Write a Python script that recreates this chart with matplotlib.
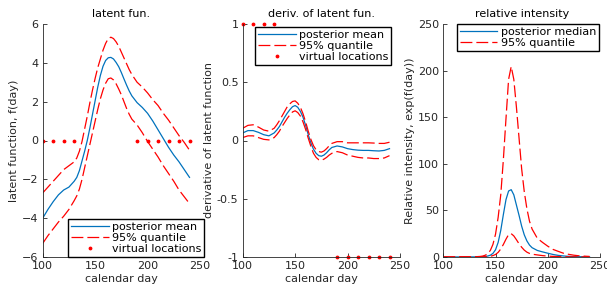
import numpy as np
import matplotlib
matplotlib.use("Agg")
import matplotlib.pyplot as plt

days = [100, 105, 110, 115, 120, 125, 130, 132.5, 135, 137.5, 140, 142.5, 145, 147.5,
        150, 152.5, 155, 157.5, 160, 162.5, 165, 167.5, 170, 172.5, 175, 177.5, 180,
        182.5, 185, 190, 195, 200, 205, 210, 215, 220, 225, 230, 235, 240]

f_mean = [-4.0, -3.55, -3.15, -2.8, -2.55, -2.4, -2.1, -1.9, -1.55, -1.05, -0.55, 0.0,
          0.65, 1.35, 2.05, 2.75, 3.35, 3.82, 4.12, 4.26, 4.28, 4.2, 4.02, 3.8, 3.5,
          3.17, 2.85, 2.55, 2.3, 1.95, 1.7, 1.4, 1.0, 0.55, 0.1, -0.35, -0.75, -1.1,
          -1.5, -1.9]
f_upper = [-2.7, -2.4, -2.1, -1.8, -1.5, -1.3, -1.1, -0.9, -0.55, -0.05, 0.6, 1.25,
           1.95, 2.6, 3.2, 3.75, 4.2, 4.65, 5.0, 5.25, 5.32, 5.25, 5.08, 4.85, 4.55,
           4.25, 3.95, 3.65, 3.4, 3.0, 2.75, 2.45, 2.1, 1.8, 1.4, 1.05, 0.65, 0.25,
           -0.1, -0.5]
f_lower = [-5.3, -4.9, -4.55, -4.2, -3.9, -3.55, -3.1, -2.85, -2.5, -2.0, -1.4, -0.8,
           -0.2, 0.4, 1.0, 1.6, 2.15, 2.6, 2.95, 3.18, 3.22, 3.12, 2.92, 2.65, 2.35,
           2.0, 1.65, 1.35, 1.1, 0.8, 0.4, -0.05, -0.45, -0.85, -1.3, -1.7, -2.1,
           -2.55, -2.9, -3.25]

d_mean = [0.065, 0.085, 0.085, 0.07, 0.05, 0.04, 0.065, 0.09, 0.12, 0.16, 0.2, 0.235,
          0.265, 0.29, 0.30, 0.285, 0.25, 0.2, 0.13, 0.05, -0.02, -0.075, -0.11, -0.13,
          -0.135, -0.125, -0.105, -0.08, -0.06, -0.047, -0.055, -0.07, -0.078, -0.083,
          -0.085, -0.085, -0.088, -0.09, -0.085, -0.07]
d_upper = [0.105, 0.13, 0.135, 0.115, 0.09, 0.08, 0.105, 0.135, 0.17, 0.21, 0.25, 0.29,
           0.315, 0.335, 0.34, 0.32, 0.285, 0.23, 0.16, 0.08, 0.01, -0.045, -0.08,
           -0.095, -0.1, -0.09, -0.07, -0.045, -0.025, -0.01, -0.01, -0.02, -0.02,
           -0.02, -0.02, -0.02, -0.022, -0.025, -0.025, -0.015]
d_lower = [0.025, 0.04, 0.04, 0.025, 0.01, 0.005, 0.025, 0.05, 0.08, 0.12, 0.155, 0.19,
           0.22, 0.245, 0.255, 0.24, 0.21, 0.16, 0.095, 0.02, -0.05, -0.11, -0.145,
           -0.165, -0.17, -0.16, -0.145, -0.125, -0.11, -0.095, -0.105, -0.125, -0.135,
           -0.145, -0.15, -0.15, -0.155, -0.155, -0.15, -0.13]

virt_days_lo = [100, 110, 120, 130]
virt_days_hi = [190, 200, 210, 220, 230, 240]
virt_f = 0
virt_d_lo = 1
virt_d_hi = -1

# intensity is exp of the latent function (as labelled on the axis)
i_median = np.exp(f_mean)
i_upper = np.exp(f_upper)
i_lower = np.exp(f_lower)

plt.rcParams['font.family'] = ['DejaVu Sans']
plt.rcParams['font.size'] = 8

BLUE = '#0072BD'
RED = '#FF0000'
AX = '#262626'
DASH = (0, (9.5, 3.2))
LW = 0.9

fig = plt.figure(figsize=(6.07, 2.93), dpi=100)
W, H = 607, 293
bottom = 1 - 257 / H
height = (257 - 24) / H
lefts = [42.7, 242.7, 443.3]
rights = [200, 400, 600]
axes = [fig.add_axes([l / W, bottom, (r - l) / W, height]) for l, r in zip(lefts, rights)]


def style(ax):
    for s in ['top', 'right']:
        ax.spines[s].set_visible(False)
    for s in ['left', 'bottom']:
        ax.spines[s].set_color(AX)
        ax.spines[s].set_linewidth(0.6)
    ax.tick_params(direction='in', length=3, width=0.6, colors=AX, labelsize=8, pad=3)
    ax.set_xlim(100, 250)
    ax.set_xticks([100, 150, 200, 250])
    ax.set_xlabel('calendar day', color=AX, labelpad=2)


leg_kw = dict(fancybox=False, framealpha=1, edgecolor='black', handlelength=3.4,
              handletextpad=0.3, labelspacing=0.12, borderpad=0.25, borderaxespad=0,
              fontsize=8)

# panel 1
ax = axes[0]
style(ax)
ax.plot(days, f_mean, color=BLUE, lw=LW, label='posterior mean')
ax.plot(days, f_upper, color=RED, lw=LW, linestyle=DASH, label='95% quantile')
ax.plot(days, f_lower, color=RED, lw=LW, linestyle=DASH)
ax.plot(virt_days_lo + virt_days_hi, [virt_f] * 10, '.', color=RED, ms=3.5,
        label='virtual locations')
ax.set_ylim(-6, 6)
ax.set_yticks([-6, -4, -2, 0, 2, 4, 6])
ax.set_title('latent fun.', fontsize=8, color='black', pad=5)
ax.set_ylabel('latent function, f(day)', color=AX, labelpad=2)
ax.legend(loc='lower left', bbox_to_anchor=(0.161, 0.0), **leg_kw)

# panel 2
ax = axes[1]
style(ax)
ax.plot(days, d_mean, color=BLUE, lw=LW, label='posterior mean')
ax.plot(days, d_upper, color=RED, lw=LW, linestyle=DASH, label='95% quantile')
ax.plot(days, d_lower, color=RED, lw=LW, linestyle=DASH)
ax.plot(virt_days_lo + virt_days_hi, [virt_d_lo] * 4 + [virt_d_hi] * 6, '.', color=RED,
        ms=3.5, label='virtual locations', clip_on=False)
ax.set_ylim(-1, 1)
ax.set_yticks([-1, -0.5, 0, 0.5, 1])
ax.set_yticklabels(['-1', '-0.5', '0', '0.5', '1'])
ax.set_title('deriv. of latent fun.', fontsize=8, color='black', pad=5)
ax.set_ylabel('derivative of latent function', color=AX, labelpad=2)
ax.legend(loc='upper left', bbox_to_anchor=(0.08, 0.988), **leg_kw)

# panel 3
ax = axes[2]
style(ax)
ax.plot(days, i_median, color=BLUE, lw=LW, label='posterior median')
ax.plot(days, i_upper, color=RED, lw=LW, linestyle=DASH, label='95% quantile')
ax.plot(days, i_lower, color=RED, lw=LW, linestyle=DASH)
ax.set_ylim(0, 250)
ax.set_yticks([0, 50, 100, 150, 200, 250])
ax.set_title('relative intensity', fontsize=8, color='black', pad=5)
ax.set_ylabel('Relative intensity, exp(f(day))', color=AX, labelpad=2)
ax.legend(loc='upper left', bbox_to_anchor=(0.086, 1.0), **leg_kw)

fig.savefig('out.png', dpi=100)
